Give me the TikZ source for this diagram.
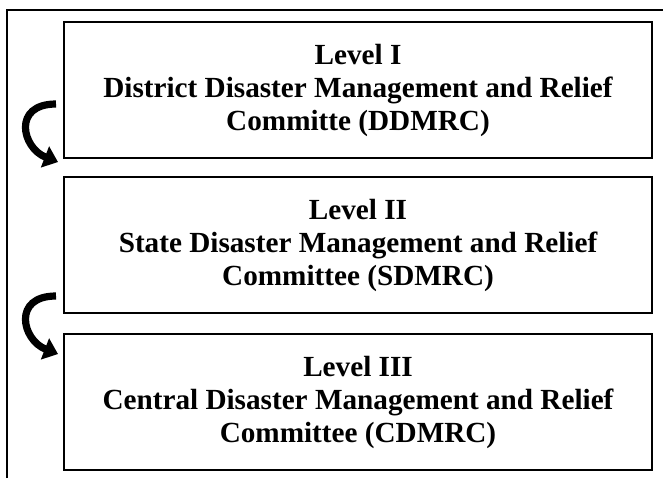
\documentclass[tikz,border=0pt]{standalone}
\usepackage{fontspec}
\setmainfont{Liberation Serif}
\usepackage{tikz}
\usetikzlibrary{arrows.meta,positioning}
\tikzstyle{frame} = [draw, line width=1pt]
\tikzstyle{tier} = [draw, rectangle, line width=1pt, text centered, align=center, minimum width=294pt, minimum height=68pt, inner sep=0pt, font=\fontsize{14.6}{16.5}\selectfont\bfseries]
\tikzstyle{curl} = [draw, line width=3.6pt, -{Triangle[width=11pt,length=7pt]}]

\begin{document}
\begin{tikzpicture}[x=0.5pt, y=-0.5pt]
        \useasboundingbox (0,0) rectangle (663,478);
        \coordinate (fbot) at (7,478);
        \coordinate (fcorner) at (7,10);
        \coordinate (fright) at (663,10);
        \node[tier] (district) at (358,90) {Level I\\District Disaster Management and Relief\\Committe (DDMRC)};
        \node[tier, below=8.5pt of district] (state) {Level II\\State Disaster Management and Relief\\Committee (SDMRC)};
        \node[tier, below=9.5pt of state] (central) {Level III\\Central Disaster Management and Relief\\Committee (CDMRC)};
        \coordinate (up1) at (56,104);
        \coordinate (down1) at (58,162);
        \coordinate (up2) at (56,296);
        \coordinate (down2) at (58,354);
        \path[frame] (fbot) -- (fcorner) -- (fright);
        \path[curl] (up1) .. controls (12,104) and (22,148) .. (down1);
        \path[curl] (up2) .. controls (12,296) and (22,340) .. (down2);
    \end{tikzpicture}
\end{document}
